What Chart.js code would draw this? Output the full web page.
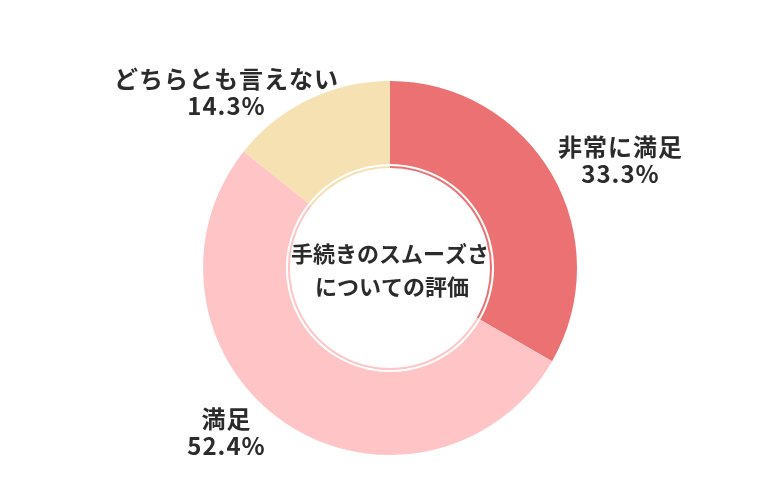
<!DOCTYPE html>
<html>
<head>
<meta charset="utf-8">
<script src="https://cdn.jsdelivr.net/npm/chart.js@4/dist/chart.umd.min.js"></script>
<style>
html,body{margin:0;padding:0;background:#fff;}
canvas{display:block;}
</style>
</head>
<body>
<canvas id="c" width="780" height="500"></canvas>
<script>
const categories = ['非常に満足', '満足', 'どちらとも言えない'];
const values = [33.3, 52.4, 14.3];
const valueLabels = ['33.3%', '52.4%', '14.3%'];
const colors = ['#EC7173', '#FEC4C6', '#F5E1B2'];
const centerTitle = ['手続きのスムーズさ', 'についての評価'];
// label anchor offsets from the doughnut centre (x, first-line y)
const labelOffsets = [[230, -121], [-164, 151], [-164, -189]];

const labelPlugin = {
  id: 'labels',
  afterDatasetsDraw(chart) {
    const ctx = chart.ctx;
    const arc = chart.getDatasetMeta(0).data[0];
    const cx = arc.x, cy = arc.y;
    ctx.save();
    ctx.fillStyle = '#2b2b2b';
    ctx.textAlign = 'center';
    ctx.textBaseline = 'middle';
    ctx.font = 'bold 24px "Noto Sans CJK JP"';
    ctx.letterSpacing = '1px';
    categories.forEach((c, i) => {
      const [ox, oy] = labelOffsets[i];
      ctx.fillText(c, cx + ox + 0.5, cy + oy);
      ctx.fillText(valueLabels[i], cx + ox + 0.5, cy + oy + 27);
    });
    ctx.font = 'bold 22px "Noto Sans CJK JP"';
    ctx.letterSpacing = '0px';
    ctx.fillText(centerTitle[0], cx, cy - 14);
    ctx.fillText(centerTitle[1], cx + 2, cy + 19);
    ctx.restore();
  }
};

new Chart(document.getElementById('c'), {
  type: 'doughnut',
  data: {
    labels: categories,
    datasets: [
      { data: values, backgroundColor: colors, borderWidth: 0, weight: 83 },
      { data: values, backgroundColor: 'rgba(255,255,255,0)', borderWidth: 0, weight: 2 },
      { data: values, backgroundColor: colors, borderWidth: 0, weight: 2 }
    ]
  },
  options: {
    responsive: false,
    animation: false,
    radius: 187,
    cutout: '53.5%',
    layout: { padding: { top: 36, bottom: 0 } },
    plugins: { legend: { display: false }, tooltip: { enabled: false } }
  },
  plugins: [labelPlugin]
});
</script>
</body>
</html>
